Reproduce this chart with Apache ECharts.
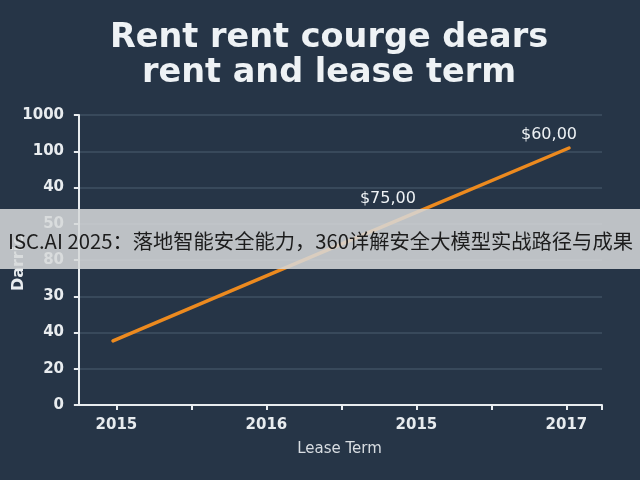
<!DOCTYPE html>
<html><head><meta charset="utf-8">
<script src="https://cdn.jsdelivr.net/npm/echarts@6/dist/echarts.min.js"></script>
<style>html,body{margin:0;padding:0;background:#263547;}#c{width:640px;height:480px;}</style>
</head><body><div id="c"></div>
<script>
var titleLines = ['Rent rent courge dears', 'rent and lease term'];
var yTickLabels = ['0', '20', '40', '30', '80', '50', '40', '100', '1000'];
var xTickLabels = ['2015', '2016', '2015', '2017'];
var xLabelPos = [1, 5, 9, 13];
var xTickPos = [1, 3, 5, 7, 9, 11, 13, 13.95];
var seriesX = [0.91, 8.24, 13.07];
var seriesY = [1.77, 4.98, 7.09];
var pointLabels = ['', '$75,00', '$60,00'];
var yName = 'Darrie';
var xName = 'Lease Term';
var banner = 'ISC.AI 2025：落地智能安全能力，360详解安全大模型实战路径与成果';

var font = '"DejaVu Sans", sans-serif';
var chart = echarts.init(document.getElementById('c'));
var data = seriesX.map(function (x, i) { return [x, seriesY[i]]; });
chart.setOption({
  backgroundColor: '#263547',
  animation: false,
  title: {
    text: titleLines.join('\n'), left: 324, textAlign: 'center', top: 16,
    textStyle: { color: '#eef2f5', fontSize: 33.5, fontWeight: 'bold', fontFamily: font, lineHeight: 35 }
  },
  grid: { left: 77, right: 38, top: 115, bottom: 75, outerBoundsMode: 'none', containLabel: false },
  xAxis: {
    type: 'value', min: -0.05, max: 13.95,
    name: xName, nameLocation: 'middle', nameGap: 37,
    nameTextStyle: { color: '#d8dde2', fontSize: 15, fontFamily: font },
    axisLine: { lineStyle: { color: '#e8ecef', width: 2 } },
    axisTick: { show: true, length: 5, customValues: xTickPos, lineStyle: { color: '#e8ecef', width: 2 } },
    axisLabel: { customValues: xLabelPos, color: '#e8ecef', fontSize: 15, fontWeight: 'bold', fontFamily: font, margin: 13,
      formatter: function (v) { var i = xLabelPos.indexOf(Math.round(v)); return i >= 0 ? xTickLabels[i] : ''; } },
    splitLine: { show: false }
  },
  yAxis: {
    type: 'value', min: 0, max: 8, interval: 1,
    name: yName, nameLocation: 'middle', nameGap: 50, nameRotate: 90, nameMoveOverlap: false,
    nameTextStyle: { color: '#e8ecef', fontSize: 16, fontWeight: 'bold', fontFamily: font, padding: [0, 6, 0, 0] },
    axisLine: { show: true, lineStyle: { color: '#e8ecef', width: 2 } },
    axisTick: { show: true, length: 5, lineStyle: { color: '#e8ecef', width: 2 } },
    axisLabel: { color: '#e8ecef', fontSize: 15, fontWeight: 'bold', fontFamily: font, margin: 13,
      formatter: function (v) { return yTickLabels[Math.round(v)]; } },
    splitLine: { show: true, lineStyle: { color: '#3f5062', width: 1.5 } }
  },
  series: [{
    type: 'line', data: data, clip: false,
    symbol: 'circle', symbolSize: 2, showSymbol: true, itemStyle: { color: 'rgba(0,0,0,0)' },
    lineStyle: { color: '#ec8a1f', width: 3.5, cap: 'round' },
    label: { show: true, position: 'top', color: '#eef2f5', fontSize: 16, fontFamily: font,
      formatter: function (p) { return pointLabels[p.dataIndex]; } },
    labelLayout: function (p) {
      if (p.dataIndex === 1) return { dx: 0, dy: -12, hideOverlap: false };
      if (p.dataIndex === 2) return { dx: -20, dy: 1, hideOverlap: false };
      return {};
    },
    z: 3
  }],
  graphic: [
    { type: 'rect', shape: { x: 0, y: 209, width: 640, height: 60 }, style: { fill: 'rgba(214,216,218,0.86)' }, z: 100 },
    { type: 'text', x: 8, y: 241, style: { text: banner, fill: '#1c1c1c', fontSize: 20.3, fontFamily: '"Noto Sans CJK SC", sans-serif', verticalAlign: 'middle' }, z: 101 }
  ]
});
</script></body></html>
